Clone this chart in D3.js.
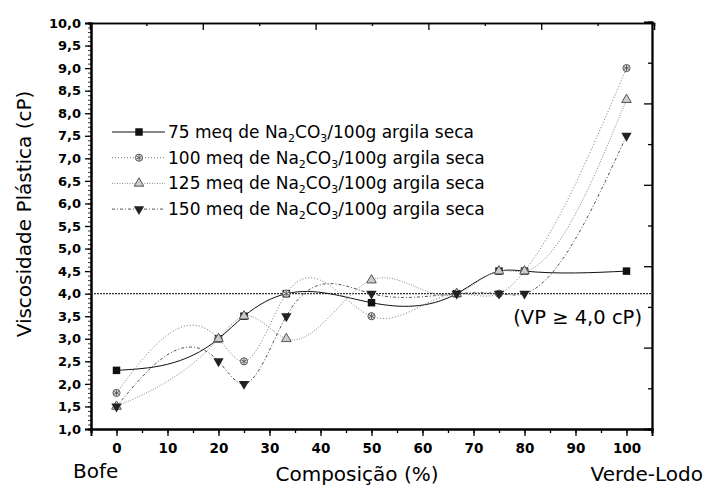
<!DOCTYPE html>
<html><head><meta charset="utf-8">
<script src="https://cdn.jsdelivr.net/npm/d3@7"></script>
<style>
html,body{margin:0;padding:0;background:#fff;}
svg{display:block;font-family:"DejaVu Sans",Arial,sans-serif;}
</style></head>
<body>
<svg id="c" width="706" height="488"></svg>
<script>
// ---------------- data ----------------
const composition = [0, 20, 25, 33.3, 50, 66.7, 75, 80, 100];
const vp75  = [2.3, 3.0, 3.5, 4.0, 3.8, 4.0, 4.5, 4.5, 4.5];
const vp100 = [1.8, 3.0, 2.5, 4.0, 3.5, 4.0, 4.0, 4.5, 9.0];
const vp125 = [1.5, 3.0, 3.5, 3.0, 4.3, 4.0, 4.5, 4.5, 8.3];
const vp150 = [1.5, 2.5, 2.0, 3.5, 4.0, 4.0, 4.0, 4.0, 7.5];
const seriesNames = ["75", "100", "125", "150"];
const xTicks = [0, 10, 20, 30, 40, 50, 60, 70, 80, 90, 100];
const yTicks = [1.0,1.5,2.0,2.5,3.0,3.5,4.0,4.5,5.0,5.5,6.0,6.5,7.0,7.5,8.0,8.5,9.0,9.5,10.0];
const limitVP = 4.0;

// ---------------- natural cubic spline curve y(x) (drawing only) ----------------
function CurveSplineX(context) { this._context = context; }
CurveSplineX.prototype = {
  areaStart() { this._line = 0; },
  areaEnd() { this._line = NaN; },
  lineStart() { this._x = []; this._y = []; },
  point(px, py) { this._x.push(+px); this._y.push(+py); },
  lineEnd() {
    const X = this._x, Y = this._y, n = X.length, c = this._context;
    if (!n) return;
    c.moveTo(X[0], Y[0]);
    if (n < 3) { for (let i = 1; i < n; i++) c.lineTo(X[i], Y[i]); return; }
    const h = [], M = new Array(n).fill(0);
    for (let i = 0; i < n - 1; i++) h.push(X[i + 1] - X[i]);
    // tridiagonal solve for interior second derivatives
    const a = [], b = [], cc = [], d = [];
    for (let i = 1; i < n - 1; i++) {
      a.push(h[i - 1]); b.push(2 * (h[i - 1] + h[i])); cc.push(h[i]);
      d.push(6 * ((Y[i + 1] - Y[i]) / h[i] - (Y[i] - Y[i - 1]) / h[i - 1]));
    }
    const m = b.length;
    for (let i = 1; i < m; i++) {
      const w = a[i] / b[i - 1];
      b[i] -= w * cc[i - 1]; d[i] -= w * d[i - 1];
    }
    const sol = new Array(m);
    sol[m - 1] = d[m - 1] / b[m - 1];
    for (let i = m - 2; i >= 0; i--) sol[i] = (d[i] - cc[i] * sol[i + 1]) / b[i];
    for (let i = 0; i < m; i++) M[i + 1] = sol[i];
    for (let i = 0; i < n - 1; i++) {
      const hi = h[i], s = (Y[i + 1] - Y[i]) / hi;
      const m0 = s - hi * (2 * M[i] + M[i + 1]) / 6;
      const m1 = s + hi * (M[i] + 2 * M[i + 1]) / 6;
      c.bezierCurveTo(X[i] + hi / 3, Y[i] + m0 * hi / 3,
                      X[i + 1] - hi / 3, Y[i + 1] - m1 * hi / 3,
                      X[i + 1], Y[i + 1]);
    }
  }
};
const curveSplineX = ctx => new CurveSplineX(ctx);

// ---------------- layout ----------------
const svg = d3.select("#c");
const L = 91, R = 652, T = 23, B = 429;
const x = d3.scaleLinear().domain([-5, 105]).range([L, R]);
const y = d3.scaleLinear().domain([1, 10]).range([B, T]);
const xTop = d3.scaleLinear().domain([-1, 4]).range([L - 1, R + 2]);
const yRight = d3.scaleLinear().domain([0, 5]).range([B, T - 1]);

const fmt = v => d3.format(".1f")(v).replace(".", ",");
const yMinor = d3.range(10, 101).map(v => v / 10);
const xMinor = d3.range(-5, 106, 5);

function styleAxis(g, w) {
  g.select(".domain").attr("stroke", "#000").attr("stroke-width", w);
  g.selectAll(".tick line").attr("stroke", "#000").attr("stroke-width", 1.3);
}

// left axis
svg.append("g").attr("transform", `translate(${L},0)`)
  .call(d3.axisLeft(y).tickValues(yMinor).tickSize(3).tickFormat(""))
  .call(g => { styleAxis(g, 2); g.selectAll(".tick line").attr("stroke-width", 0.8); });
svg.append("g").attr("transform", `translate(${L},0)`)
  .call(d3.axisLeft(y).tickValues(yTicks).tickSize(6).tickPadding(4).tickFormat(fmt))
  .call(g => { styleAxis(g, 2);
    g.selectAll("text").attr("font-size", 13).attr("font-family", "DejaVu Sans, Arial").attr("fill", "#000").attr("font-weight", "bold"); });

// bottom axis
svg.append("g").attr("transform", `translate(0,${B})`)
  .call(d3.axisBottom(x).tickValues(xMinor).tickSize(4).tickFormat(""))
  .call(g => styleAxis(g, 2));
svg.append("g").attr("transform", `translate(0,${B})`)
  .call(d3.axisBottom(x).tickValues(xTicks).tickSize(7).tickPadding(7))
  .call(g => { styleAxis(g, 2);
    g.selectAll("text").attr("font-size", 13.5).attr("font-family", "DejaVu Sans, Arial").attr("fill", "#000").attr("font-weight", "bold"); });

// top axis (inward ticks)
svg.append("g").attr("transform", `translate(0,${T})`)
  .call(d3.axisTop(xTop).tickValues(d3.range(-0.5, 4, 1)).tickSize(-3).tickFormat(""))
  .call(g => styleAxis(g, 1.5));
svg.append("g").attr("transform", `translate(0,${T})`)
  .call(d3.axisTop(xTop).tickValues([0, 1, 2, 3]).tickSize(-7).tickFormat(""))
  .call(g => styleAxis(g, 1.5));

// right axis (inward ticks)
svg.append("g").attr("transform", `translate(${R},0)`)
  .call(d3.axisRight(yRight).tickValues(d3.range(0.5, 5, 1)).tickSize(-4).tickFormat(""))
  .call(g => styleAxis(g, 1.8));
svg.append("g").attr("transform", `translate(${R},0)`)
  .call(d3.axisRight(yRight).tickValues([1, 2, 3, 4]).tickSize(-8).tickFormat(""))
  .call(g => styleAxis(g, 1.8));

// reference line VP = 4.0
svg.append("line")
  .attr("x1", L).attr("x2", R).attr("y1", y(limitVP)).attr("y2", y(limitVP))
  .attr("stroke", "#333").attr("stroke-width", 1.3).attr("stroke-dasharray", "2,1");

// ---------------- series ----------------
const seriesData = [vp75, vp100, vp125, vp150];
const lineStyles = [
  {stroke: "#111", dash: null, width: 1},
  {stroke: "#777", dash: "1,2", width: 1},
  {stroke: "#888", dash: "1,1.5", width: 1},
  {stroke: "#555", dash: "3,2,1,2", width: 1}
];
const line = d3.line().x(d => x(d[0])).y(d => y(d[1])).curve(curveSplineX);

seriesData.forEach((vals, i) => {
  const pts = composition.map((c, j) => [c, vals[j]]);
  svg.append("path").datum(pts).attr("d", line)
    .attr("fill", "none").attr("stroke", lineStyles[i].stroke)
    .attr("stroke-width", lineStyles[i].width)
    .attr("stroke-dasharray", lineStyles[i].dash);
});

function marker(g, i, cx, cy) {
  if (i === 0) {
    g.append("path").attr("d", d3.symbol(d3.symbolSquare, 56)())
      .attr("transform", `translate(${cx},${cy})`).attr("fill", "#111");
  } else if (i === 1) {
    g.append("circle").attr("cx", cx).attr("cy", cy).attr("r", 3.6)
      .attr("fill", "#e4e4e4").attr("stroke", "#555").attr("stroke-width", 1);
    g.append("path").attr("d", d3.symbol(d3.symbolAsterisk, 24)())
      .attr("transform", `translate(${cx},${cy})`).attr("fill", "none")
      .attr("stroke", "#555").attr("stroke-width", 0.9);
  } else if (i === 2) {
    g.append("path").attr("d", d3.symbol(d3.symbolTriangle, 40)())
      .attr("transform", `translate(${cx},${cy})`)
      .attr("fill", "#ccc").attr("stroke", "#555").attr("stroke-width", 1);
  } else {
    g.append("path").attr("d", d3.symbol(d3.symbolTriangle, 46)())
      .attr("transform", `translate(${cx},${cy}) rotate(180)`).attr("fill", "#222");
  }
}

seriesData.forEach((vals, i) => {
  const g = svg.append("g");
  composition.forEach((c, j) => marker(g, i, x(c), y(vals[j])));
});

// ---------------- legend ----------------
const legG = svg.append("g");
seriesNames.forEach((n, i) => {
  const by = 138 + i * 25.7;
  const cy = by - 6;
  legG.append("line").attr("x1", 112).attr("x2", 165).attr("y1", cy).attr("y2", cy)
    .attr("stroke", lineStyles[i].stroke).attr("stroke-width", 1)
    .attr("stroke-dasharray", lineStyles[i].dash);
  marker(legG, i, 139, cy);
  const t = legG.append("text").attr("x", 168).attr("y", by)
    .attr("font-size", 17).attr("fill", "#000");
  t.append("tspan").text(n + " meq de Na");
  t.append("tspan").text("2").attr("font-size", 11).attr("dy", 4);
  t.append("tspan").text("CO").attr("dy", -4);
  t.append("tspan").text("3").attr("font-size", 11).attr("dy", 4);
  t.append("tspan").text("/100g argila seca").attr("dy", -4);
});

// ---------------- titles ----------------
svg.append("text").attr("transform", "translate(31,214) rotate(-90)")
  .attr("text-anchor", "middle").attr("font-size", 20).text("Viscosidade Plástica (cP)");
svg.append("text").attr("x", 357).attr("y", 481).attr("text-anchor", "middle")
  .attr("font-size", 20).text("Composição (%)");
svg.append("text").attr("x", 73).attr("y", 478).attr("font-size", 20).text("Bofe");
svg.append("text").attr("x", 703).attr("y", 481).attr("text-anchor", "end")
  .attr("font-size", 20).text("Verde-Lodo");
svg.append("text").attr("x", 642).attr("y", 324).attr("text-anchor", "end")
  .attr("font-size", 19.5).text("(VP ≥ 4,0 cP)");
</script>
</body></html>
